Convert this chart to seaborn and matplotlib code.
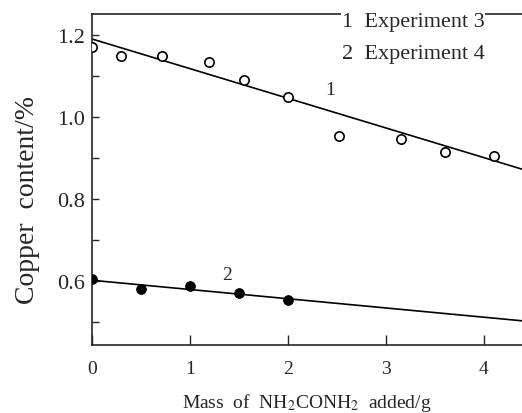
import numpy as np
import pandas as pd
import matplotlib
matplotlib.use('Agg')
import matplotlib.pyplot as plt
import seaborn as sns


SET_DPI = 100
FIGSIZE = (5.22, 4.14)

# experiment 3 (open circles)
EXP3_MASS = [0.0, 0.3, 0.72, 1.2, 1.55, 2.0, 2.52, 3.15, 3.6, 4.1]
EXP3_CU = [1.171, 1.149, 1.149, 1.134, 1.090, 1.049, 0.954, 0.946, 0.915, 0.905]
# experiment 4 (filled circles)
EXP4_MASS = [0.0, 0.5, 1.0, 1.5, 2.0]
EXP4_CU = [0.605, 0.580, 0.589, 0.570, 0.554]

# fitted lines
FIT3_MASS = [0.0, 4.4]
FIT3_CU = [1.19, 0.872]
FIT4_MASS = [0.0, 4.4]
FIT4_CU = [0.602, 0.503]

X_TICKS = [0, 1, 2, 3, 4]
Y_TICKS = [0.6, 0.8, 1.0, 1.2]
Y_MINOR = [0.5, 0.7, 0.9, 1.1]


sns.set_style('ticks')
plt.rcParams['font.family'] = ['Liberation Serif', 'DejaVu Serif']
plt.rcParams['mathtext.fontset'] = 'stix'

fig = plt.figure(figsize=FIGSIZE, dpi=SET_DPI)
ax = fig.add_axes([0.176, 0.164, 0.824, 0.800])

fits = pd.DataFrame({'mass': FIT3_MASS + FIT4_MASS,
                     'cu': FIT3_CU + FIT4_CU,
                     'exp': ['3'] * 2 + ['4'] * 2})
sns.lineplot(x='mass', y='cu', hue='exp', data=fits, ax=ax,
             palette=['black', 'black'], linewidth=1.2, legend=False)

sns.scatterplot(x=EXP3_MASS, y=EXP3_CU, ax=ax, marker='o', s=45,
                facecolor='white', edgecolor='black', linewidth=1.2, zorder=3)
sns.scatterplot(x=EXP4_MASS, y=EXP4_CU, ax=ax, marker='o', s=50,
                color='black', edgecolor='black', zorder=3)

ax.set_xlim(0, 4.39)
ax.set_ylim(0.444, 1.251)
ax.set_xticks(X_TICKS)
ax.set_yticks(Y_TICKS)
ax.set_yticks(Y_MINOR, minor=True)
ax.tick_params(axis='both', direction='in', width=1.0)
ax.tick_params(axis='x', length=7, pad=11, labelsize=14)
ax.tick_params(axis='y', length=5, pad=5, labelsize=16)
ax.tick_params(axis='y', which='minor', direction='in', length=5, width=1.0)
ax.spines['right'].set_visible(False)
for sp in ['left', 'bottom', 'top']:
    ax.spines[sp].set_linewidth(1.2)

ax.set_xlabel(r'Mass  of  NH$_2$CONH$_2$  added/g', fontsize=14, labelpad=10)
ax.set_ylabel('Copper  content/%', fontsize=20, labelpad=12)
ax.yaxis.label.set_y(0.44)

ax.text(2.43, 1.068, '1', fontsize=14, ha='center', va='center')
ax.text(1.38, 0.617, '2', fontsize=14, ha='center', va='center')
ax.text(2.55, 1.232, '1  Experiment 3', fontsize=16, ha='left', va='center',
        bbox=dict(facecolor='white', edgecolor='none', pad=0.5))
ax.text(2.55, 1.155, '2  Experiment 4', fontsize=16, ha='left', va='center')

plt.savefig('out.png', dpi=SET_DPI)
plt.close('all')
